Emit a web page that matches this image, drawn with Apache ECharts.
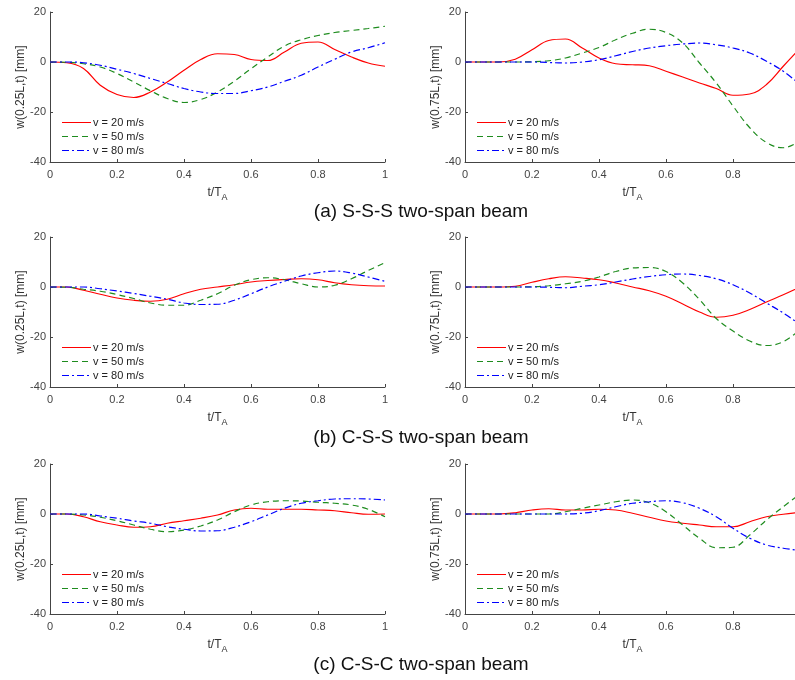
<!DOCTYPE html>
<html>
<head>
<meta charset="utf-8">
<title>Beam deflection response</title>
<script src="https://cdn.jsdelivr.net/npm/echarts@6/dist/echarts.min.js"></script>
<style>
  html, body { margin: 0; padding: 0; background: #fff; }
  #chart { width: 795px; height: 680px; }
</style>
</head>
<body>
<div id="chart"></div>
<script>
// Normalised time t/T_A, shared by every curve
const tValues = [0, 0.05, 0.1, 0.15, 0.2, 0.25, 0.3, 0.35, 0.4, 0.45, 0.5,
                 0.55, 0.6, 0.65, 0.7, 0.75, 0.8, 0.85, 0.9, 0.95, 1.0];

const speedLabels = ['v = 20 m/s', 'v = 50 m/s', 'v = 80 m/s'];
const captions = ['(a) S-S-S two-span beam', '(b) C-S-S two-span beam', '(c) C-S-C two-span beam'];
const yNames = ['w(0.25L,t) [mm]', 'w(0.75L,t) [mm]'];
const yTicks = [-40, -20, 0, 20];
const xTicks = [0, 0.2, 0.4, 0.6, 0.8, 1];

// (a) S-S-S, deflection at 0.25L [mm]
const sss25_v20 = [0, -0.3, -2.6, -9.3, -13, -14.2, -12, -8, -3.3, 1, 3.3, 3, 1, 0.6, 4, 7.5, 8.0, 5, 2, -0.4, -1.7];
const sss25_v50 = [0, -0.1, -0.7, -2, -4.6, -8, -11.5, -14.6, -16.2, -15, -12, -7.7, -2.7, 2, 6.4, 8.9, 10.6, 11.8, 12.6, 13.4, 14.3];
const sss25_v80 = [0, 0, -0.3, -1.3, -2.9, -4.6, -6.6, -8.6, -10.6, -12, -12.6, -12.6, -11.5, -10, -7.7, -5.3, -2, 1.1, 4, 5.7, 7.7];
// (a) S-S-S, deflection at 0.75L [mm]
const sss75_v20 = [0, 0, 0, 1.1, 4.9, 8.6, 9.2, 5.6, 1.6, -0.7, -1.1, -1.5, -3.7, -6, -8.4, -10.6, -13.3, -12.8, -9, -1.7, 5.5];
const sss75_v50 = [0, 0, 0, 0, 0.1, 0.5, 1.6, 3.6, 5.8, 8.9, 11.5, 13.1, 11.8, 7.6, -0.4, -8.4, -17.6, -26.3, -32.2, -34.3, -31.5];
const sss75_v80 = [0, 0, 0, 0, 0, -0.2, -0.4, 0, 0.9, 2.5, 4.2, 5.6, 6.5, 7.2, 7.6, 6.9, 5.6, 3.6, 0.3, -3.7, -9];

// (b) C-S-S, deflection at 0.25L [mm]
const css25_v20 = [0, 0, -1.3, -2.9, -4.4, -5.3, -5.7, -4.9, -2.7, -0.9, 0, 0.9, 2, 2.6, 3, 3.3, 2.9, 1.7, 0.9, 0.5, 0.4];
const css25_v50 = [0, -0.1, -0.9, -1.7, -3, -4.6, -6.4, -7.3, -7.3, -5.3, -2.7, 0.7, 2.9, 3.7, 2.9, 1.3, 0, 0.7, 3.3, 6.6, 9.7];
const css25_v80 = [0, 0, 0, -0.7, -1.6, -2.6, -3.7, -4.9, -6.4, -7, -6.9, -5.3, -2.7, 0, 2.3, 4.4, 5.7, 6.4, 5.6, 4, 2.3];
// (b) C-S-S, deflection at 0.75L [mm]
const css75_v20 = [0, 0, 0, 0.3, 1.9, 3.3, 4.1, 3.6, 2.9, 1.6, 0, -1.5, -3.7, -6.8, -10, -12.1, -11.3, -9, -6, -3.1, 0];
const css75_v50 = [0, 0, 0, 0, 0.1, 0.5, 1.3, 2.3, 4, 6.2, 7.6, 7.8, 6.2, 1.6, -5, -12.6, -17.6, -21.6, -23.4, -21.9, -17];
const css75_v80 = [0, 0, 0, 0, 0, -0.1, -0.3, 0.3, 0.9, 2, 3.2, 4.2, 4.9, 5.2, 4.6, 3.3, 0.9, -2.4, -6.4, -10.4, -15];

// (c) C-S-C, deflection at 0.25L [mm]
const csc25_v20 = [0, 0, -1.1, -3.1, -4.4, -5.3, -5.1, -3.7, -2.7, -1.7, -0.4, 1.6, 2.3, 1.9, 1.9, 1.9, 1.6, 1.3, 0.5, -0.1, 0];
const csc25_v50 = [0, 0, -0.4, -1.3, -2.7, -4.4, -6.1, -7.1, -6.4, -4.8, -2.4, 0.9, 3.6, 4.9, 5.3, 5.2, 4.7, 4.3, 3.6, 1.9, -1.1];
const csc25_v80 = [0, 0, 0, -0.8, -1.7, -2.8, -3.7, -5.1, -6.1, -6.8, -6.7, -5.3, -3.1, -0.4, 2.3, 4.3, 5.3, 6, 6.1, 6, 5.6];
// (c) C-S-C, deflection at 0.75L [mm]
const csc75_v20 = [0, 0, 0, 0.5, 1.6, 2.1, 1.6, 1.6, 1.9, 1.6, 0.3, -1.3, -2.8, -3.7, -4.4, -5.1, -5.1, -3.1, -1.1, -0.1, 0.6];
const csc75_v50 = [0, 0, 0, 0, 0, 0, 0.9, 2.3, 3.6, 4.9, 5.6, 4.5, 0.9, -4.4, -9.7, -13.5, -13.3, -8.4, -2.4, 2.9, 8];
const csc75_v80 = [0, 0, 0, 0, 0, 0, 0, 0.3, 1.3, 2.9, 4.3, 4.9, 5.3, 4.5, 2.3, -1.1, -5.7, -9.7, -12.4, -13.7, -14.6];

// Panels in reading order: row by row, left (0.25L) then right (0.75L)
const panelSeries = [
  [sss25_v20, sss25_v50, sss25_v80], [sss75_v20, sss75_v50, sss75_v80],
  [css25_v20, css25_v50, css25_v80], [css75_v20, css75_v50, css75_v80],
  [csc25_v20, csc25_v50, csc25_v80], [csc75_v20, csc75_v50, csc75_v80]
];

// ---- layout & style ----
const FONT = '"Liberation Sans", Arial, Helvetica, sans-serif';
const rowTops = [12, 237, 464];
const colLefts = [50, 465];
const plotW = 335, plotH = 150;
const lineColors = ['#ff0000', '#1e8c1e', '#0000ff'];
const lineDashes = ['solid', [6, 4], [7, 3, 2, 3]];
const keyDashes = [null, [6, 4], [7, 3, 2, 3]];

const grids = [], xAxes = [], yAxes = [], series = [], graphics = [];

panelSeries.forEach((curves, p) => {
  const row = Math.floor(p / 2), col = p % 2;
  const left = colLefts[col], top = rowTops[row];
  // the right-hand plots run slightly past the page edge, so no bound clamping
  grids.push({ left: left, top: top, width: plotW, height: plotH,
               containLabel: false, outerBoundsMode: 'none' });

  xAxes.push({
    type: 'value', gridIndex: p, min: xTicks[0], max: xTicks[xTicks.length - 1], interval: 0.2,
    name: 't/T{s|A}', nameLocation: 'middle', nameGap: 22,
    nameTextStyle: {
      fontFamily: FONT, fontSize: 12, color: '#333',
      rich: { s: { fontFamily: FONT, fontSize: 9, color: '#333', padding: [9, 0, 0, 0] } }
    },
    axisLine: { onZero: false, lineStyle: { color: '#444', width: 1 } },
    axisTick: { inside: true, length: 3, lineStyle: { color: '#444' } },
    // the end label of the right-hand plots falls outside the page
    axisLabel: { fontFamily: FONT, fontSize: 11, color: '#444', margin: 7, showMaxLabel: col === 0 },
    splitLine: { show: false }
  });

  yAxes.push({
    type: 'value', gridIndex: p, min: yTicks[0], max: yTicks[yTicks.length - 1], interval: 20,
    name: yNames[col], nameLocation: 'middle', nameGap: 22,
    nameTextStyle: { fontFamily: FONT, fontSize: 12, color: '#333' },
    axisLine: { show: true, onZero: false, lineStyle: { color: '#444', width: 1 } },
    axisTick: { show: true, inside: true, length: 3, lineStyle: { color: '#444' } },
    axisLabel: { fontFamily: FONT, fontSize: 11, color: '#444', margin: 4 },
    splitLine: { show: false }
  });

  curves.forEach((vals, k) => {
    series.push({
      name: speedLabels[k], type: 'line', xAxisIndex: p, yAxisIndex: p,
      data: tValues.map((t, i) => [t, vals[i]]),
      smooth: 0.4, showSymbol: false, symbol: 'none', clip: true,
      lineStyle: { color: lineColors[k], width: 1.2, type: lineDashes[k] },
      itemStyle: { color: lineColors[k] },
      emphasis: { disabled: true }, silent: true
    });
  });

  // key in the lower-left corner of each panel: line sample + label
  speedLabels.forEach((label, k) => {
    const y = top + 110.5 + k * 14;
    graphics.push({
      type: 'line', silent: true,
      shape: { x1: left + 12, y1: y, x2: left + 41, y2: y },
      style: { stroke: lineColors[k], lineWidth: 1, lineDash: keyDashes[k] }
    });
    graphics.push({
      type: 'text', silent: true, x: left + 43, y: y,
      style: { text: label, font: '11px ' + FONT, fill: '#222', textVerticalAlign: 'middle' }
    });
  });
});

// Sub-figure captions under each row
const captionY = [212, 438, 665];
captions.forEach((c, i) => graphics.push({
  type: 'text', x: 421, y: captionY[i], silent: true,
  style: { text: c, font: '19px ' + FONT, fill: '#111', textAlign: 'center', textVerticalAlign: 'middle' }
}));

const chart = echarts.init(document.getElementById('chart'), null, { renderer: 'canvas' });
chart.setOption({
  backgroundColor: '#ffffff',
  animation: false,
  grid: grids, xAxis: xAxes, yAxis: yAxes, series: series,
  graphic: graphics
});
</script>
</body>
</html>
